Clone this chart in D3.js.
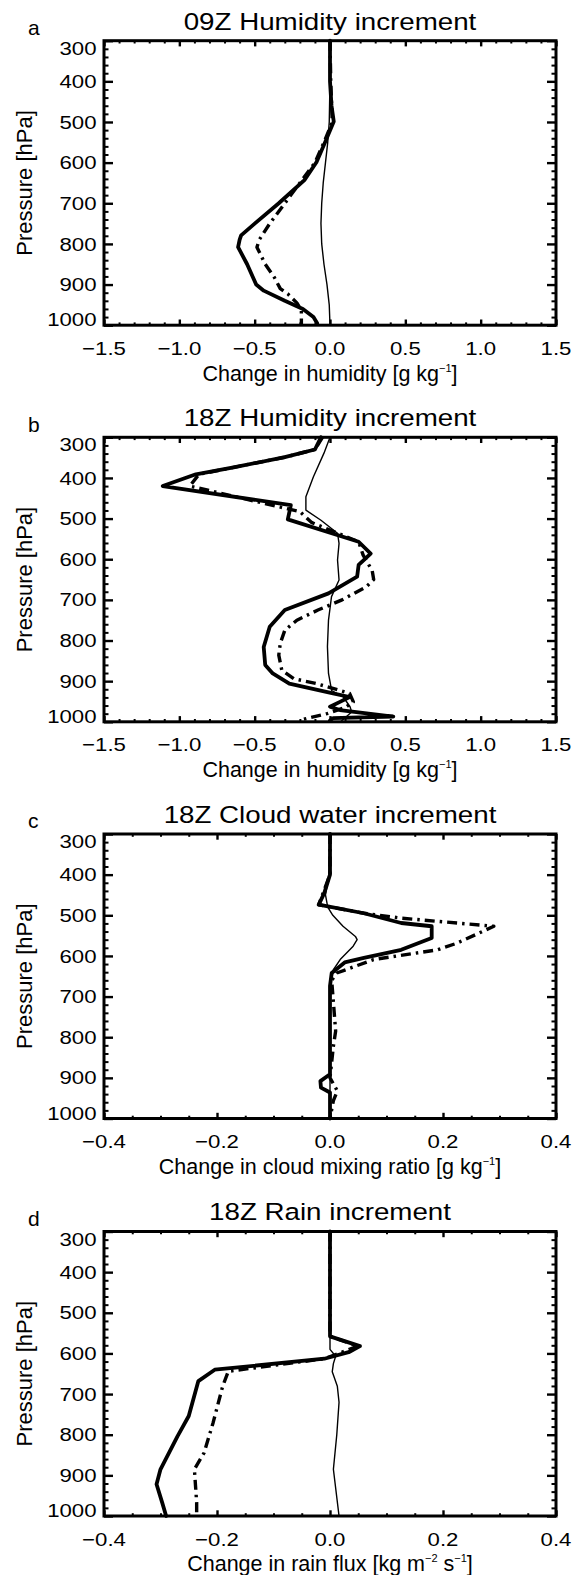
<!DOCTYPE html>
<html><head><meta charset="utf-8">
<script src="https://cdn.jsdelivr.net/npm/d3@7"></script>
<style>html,body{margin:0;padding:0;background:#fff}svg{display:block}</style>
</head><body>
<script>
// ---------------- data ----------------
const pressureTicks = [300, 400, 500, 600, 700, 800, 900, 1000];
const humidityTicks = [-1.5, -1.0, -0.5, 0.0, 0.5, 1.0, 1.5];
const smallTicks = [-0.4, -0.2, 0.0, 0.2, 0.4];
const panelLetters = ["a", "b", "c", "d"];
const panelTitles = ["09Z Humidity increment", "18Z Humidity increment", "18Z Cloud water increment", "18Z Rain increment"];

// panel a
const aThickP = [300, 400, 460, 499, 552, 599, 643, 700, 750, 779, 790, 808, 850, 900, 915, 940, 960, 980, 995];
const aThickX = [0.0, 0.0, 0.01, 0.025, -0.035, -0.09, -0.17, -0.34, -0.5, -0.59, -0.6, -0.61, -0.55, -0.49, -0.44, -0.30, -0.18, -0.11, -0.085];
const aDashP = [300, 400, 500, 550, 600, 650, 700, 750, 790, 808, 850, 882, 910, 923, 945, 964, 1000];
const aDashX = [0.0, 0.005, 0.015, -0.04, -0.1, -0.2, -0.3, -0.4, -0.47, -0.485, -0.43, -0.37, -0.33, -0.28, -0.22, -0.19, -0.19];
const aThinP = [300, 400, 500, 550, 600, 650, 700, 750, 800, 850, 900, 950, 1000];
const aThinX = [0.0, 0.0, -0.005, -0.015, -0.03, -0.045, -0.055, -0.06, -0.055, -0.04, -0.02, -0.005, 0.0];

// panel b
const bThickP = [300, 330, 349, 374, 391, 420, 467, 502, 557, 586, 614, 643, 684, 725, 766, 816, 860, 881, 906, 930, 939, 951, 963, 971, 987, 991, 997];
const bThickX = [-0.06, -0.1, -0.3, -0.64, -0.89, -1.11, -0.26, -0.28, 0.19, 0.27, 0.19, 0.18, -0.01, -0.3, -0.4, -0.44, -0.43, -0.38, -0.27, 0.02, 0.13, 0.066, 0.0, 0.066, 0.42, 0.02, 0.0];
const bDashP = [300, 330, 349, 374, 391, 420, 483, 510, 557, 590, 628, 650, 668, 700, 725, 750, 775, 807, 836, 873, 894, 906, 930, 951, 965, 980, 994, 1000];
const bDashX = [-0.05, -0.1, -0.3, -0.64, -0.87, -0.93, -0.2, -0.12, 0.19, 0.22, 0.28, 0.29, 0.24, 0.08, -0.08, -0.22, -0.3, -0.33, -0.34, -0.32, -0.24, -0.09, 0.13, 0.155, 0.1, -0.02, -0.18, -0.2];
const bThinP = [300, 339, 397, 446, 479, 504, 536, 561, 602, 651, 692, 750, 815, 881, 923, 939, 963, 976, 990, 1000];
const bThinX = [0.0, -0.04, -0.11, -0.16, -0.16, -0.06, 0.05, 0.06, 0.05, 0.06, 0.01, -0.01, -0.017, -0.01, 0.011, 0.088, 0.133, 0.144, 0.1, 0.07];

// panel c
const cThickP = [300, 400, 445, 474, 495, 519, 527, 556, 585, 605, 616, 642, 674, 800, 891, 908, 924, 936, 1000];
const cThickX = [0.0, 0.0, -0.01, -0.02, 0.06, 0.126, 0.18, 0.18, 0.126, 0.06, 0.026, 0.003, 0.0, 0.0, 0.0, -0.017, -0.016, 0.0, 0.0];
const cDashP = [300, 400, 474, 495, 507, 527, 569, 585, 609, 642, 660, 785, 822, 900, 932, 956, 1000];
const cDashX = [0.0, 0.0, -0.02, 0.06, 0.126, 0.29, 0.224, 0.19, 0.077, 0.012, 0.003, 0.01, 0.006, 0.0, 0.013, 0.006, 0.0];
const cThinP = [300, 400, 450, 480, 500, 527, 552, 560, 576, 609, 634, 680, 1000];
const cThinX = [0.0, -0.002, -0.008, -0.004, 0.005, 0.023, 0.045, 0.048, 0.041, 0.018, 0.006, 0.0, 0.0];

// panel d
const dThickP = [300, 558, 582, 597, 613, 640, 668, 754, 804, 885, 922, 967, 1000];
const dThickX = [0.0, 0.0, 0.053, 0.033, -0.01, -0.204, -0.233, -0.25, -0.27, -0.30, -0.307, -0.297, -0.29];
const dDashP = [300, 558, 582, 613, 644, 681, 771, 845, 885, 967, 1000];
const dDashX = [0.0, 0.0, 0.05, -0.01, -0.18, -0.19, -0.207, -0.223, -0.24, -0.236, -0.236];
const dThinP = [300, 560, 590, 607, 625, 645, 681, 720, 800, 885, 1000];
const dThinX = [0.0, 0.0, 0.0, 0.01, 0.006, 0.004, 0.013, 0.016, 0.012, 0.006, 0.016];

// ---------------- layout ----------------
const W = 572, H = 1575;
const L = 104, R = 556, PH = 284.5;
const tops = [40.7, 437.3, 834, 1231.5];
const FONT = "'Liberation Sans', Arial, Helvetica, sans-serif";

const panels = [
  { ticks: humidityTicks, dom: [-1.5, 1.5], minorStep: 0.1, xt: ["Change in humidity [g kg", "−1", "]"],
    series: [[aThinP, aThinX], [aDashP, aDashX], [aThickP, aThickX]] },
  { ticks: humidityTicks, dom: [-1.5, 1.5], minorStep: 0.1, xt: ["Change in humidity [g kg", "−1", "]"],
    series: [[bThinP, bThinX], [bDashP, bDashX], [bThickP, bThickX]] },
  { ticks: smallTicks, dom: [-0.4, 0.4], minorStep: 0.05, xt: ["Change in cloud mixing ratio [g kg", "−1", "]"],
    series: [[cThinP, cThinX], [cDashP, cDashX], [cThickP, cThickX]] },
  { ticks: smallTicks, dom: [-0.4, 0.4], minorStep: 0.05, xt: ["Change in rain flux [kg m", "−2", " s", "−1", "]"],
    series: [[dThinP, dThinX], [dDashP, dDashX], [dThickP, dThickX]] },
];

const styles = [
  { w: 1.4, dash: null },
  { w: 3.4, dash: "10,5,2.5,5" },
  { w: 3.8, dash: null },
];

const svg = d3.select("body").append("svg").attr("width", W).attr("height", H)
  .style("font-family", FONT);

function fmt(v) {
  const s = Math.abs(v).toFixed(1);
  return (v < -1e-9 ? "−" : "") + s;
}

panels.forEach((pn, i) => {
  const top = tops[i], bot = top + PH;
  const g = svg.append("g");
  const x = d3.scaleLinear().domain(pn.dom).range([L, R]);
  const y = d3.scaleLinear().domain([300, 1000]).range([top, bot]);

  // series
  const line = d3.line().x(d => x(d.x)).y(d => y(d.p));
  pn.series.forEach(([ps, xs], k) => {
    const data = ps.map((p, j) => ({ p, x: xs[j] }));
    const st = styles[k];
    const path = g.append("path").datum(data).attr("d", line)
      .attr("fill", "none").attr("stroke", "#000").attr("stroke-width", st.w)
      .attr("stroke-linejoin", "round");
    if (st.dash) path.attr("stroke-dasharray", st.dash).attr("stroke-linecap", "butt");
    else path.attr("stroke-linecap", "round");
  });

  // ticks via d3 axes
  const yMinor = d3.range(300, 1001, 20).filter(v => v % 100 !== 0);
  const nMin = Math.round((pn.dom[1] - pn.dom[0]) / pn.minorStep);
  const xMinor = d3.range(0, nMin + 1).map(k => +(pn.dom[0] + k * pn.minorStep).toFixed(4))
    .filter(v => !pn.ticks.some(t => Math.abs(t - v) < 1e-6));

  const addAxis = (axis, tx, ty, sw) => {
    const a = g.append("g").attr("transform", `translate(${tx},${ty})`).call(axis);
    a.select(".domain").remove();
    a.selectAll("text").remove();
    a.selectAll("line").attr("stroke", "#000").attr("stroke-width", sw);
  };
  addAxis(d3.axisLeft(y).tickValues(pressureTicks).tickSize(-9).tickFormat(""), L, 0, 2.4);
  addAxis(d3.axisLeft(y).tickValues(yMinor).tickSize(-4.5).tickFormat(""), L, 0, 2);
  addAxis(d3.axisRight(y).tickValues(pressureTicks).tickSize(-9).tickFormat(""), R, 0, 2.4);
  addAxis(d3.axisRight(y).tickValues(yMinor).tickSize(-4.5).tickFormat(""), R, 0, 2);
  addAxis(d3.axisBottom(x).tickValues(pn.ticks).tickSize(-5.7).tickFormat(""), 0, bot, 2.4);
  addAxis(d3.axisBottom(x).tickValues(xMinor).tickSize(-2.8).tickFormat(""), 0, bot, 2);
  addAxis(d3.axisTop(x).tickValues(pn.ticks).tickSize(-5.7).tickFormat(""), 0, top, 2.4);
  addAxis(d3.axisTop(x).tickValues(xMinor).tickSize(-2.8).tickFormat(""), 0, top, 2);

  // frame
  g.append("rect").attr("x", L).attr("y", top).attr("width", R - L).attr("height", PH)
    .attr("fill", "none").attr("stroke", "#000").attr("stroke-width", 3);

  // y tick labels
  pressureTicks.forEach(p => {
    let cy = y(p);
    cy = Math.max(top + 7.5, Math.min(bot - 5.5, cy));
    g.append("text").attr("transform", `translate(${L - 7.5},${cy + 6.6}) scale(1.2,1)`)
      .attr("text-anchor", "end").attr("font-size", 18.5).text(p);
  });
  // x tick labels
  pn.ticks.forEach(v => {
    g.append("text").attr("transform", `translate(${x(v)},${bot + 29.5}) scale(1.2,1)`)
      .attr("text-anchor", "middle").attr("font-size", 18.5).text(fmt(v));
  });

  // x title with superscripts
  const xt = g.append("text").attr("x", (L + R) / 2).attr("y", bot + 55.3)
    .attr("text-anchor", "middle").attr("font-size", 21.5);
  pn.xt.forEach((s, k) => {
    const sup = k % 2 === 1;
    const t = xt.append("tspan").text(s);
    if (sup) t.attr("font-size", 11).attr("dy", -9);
    else if (k > 0) t.attr("dy", 9);
  });

  // y title
  g.append("text").attr("transform", `translate(32,${(top + bot) / 2}) rotate(-90)`)
    .attr("text-anchor", "middle").attr("font-size", 22).text("Pressure [hPa]");

  // title
  g.append("text").attr("transform", `translate(${(L + R) / 2},${top - 11.2}) scale(1.18,1)`)
    .attr("text-anchor", "middle").attr("font-size", 23.5).text(panelTitles[i]);

  // panel letter
  g.append("text").attr("x", 28).attr("y", top - 5.7).attr("font-size", 21)
    .text(panelLetters[i]);
});
</script>
</body></html>
